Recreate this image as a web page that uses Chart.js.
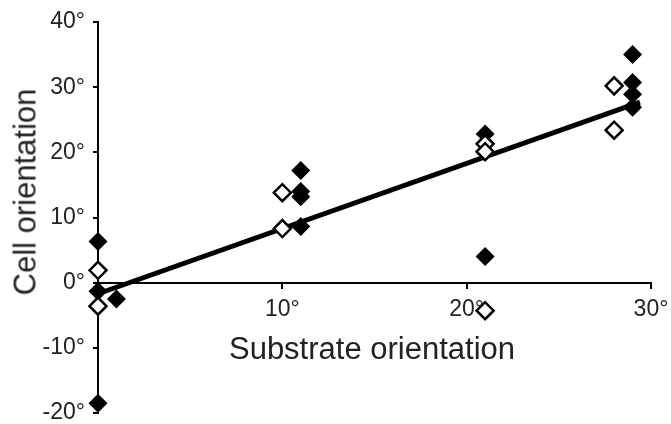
<!DOCTYPE html>
<html>
<head>
<meta charset="utf-8">
<script src="https://cdn.jsdelivr.net/npm/chart.js@4.4.1/dist/chart.umd.min.js"></script>
<style>
  body { margin: 0; background: #fff; }
  #wrap { position: relative; width: 671px; height: 424px; font-family: "Liberation Sans", Arial, sans-serif; color: #222; }
  #chart { position: absolute; left: 0; top: 0; }
  .title { position: absolute; font-size: 31px; white-space: nowrap; line-height: 31px; }
  #xTitle { left: 372px; top: 333px; transform: translateX(-50%); }
  #yTitle { left: 25px; top: 192px; transform: translate(-50%, -50%) rotate(-90deg); }
</style>
</head>
<body>
<div id="wrap">
  <canvas id="chart" width="671" height="424"></canvas>
  <div class="title" id="xTitle">Substrate orientation</div>
  <div class="title" id="yTitle">Cell orientation</div>
</div>
<script>
// filled diamonds
const filledX = [0, 0, 1, 0, 11, 11, 11, 11, 21, 21, 29, 29, 29, 29];
const filledY = [6.3, -1.3, -2.5, -18.5, 17.2, 14.0, 13.2, 8.6, 22.8, 4.0, 35.0, 30.7, 28.9, 26.9];

// open diamonds
const openX = [0, 0, 10, 10, 21, 21, 21, 28, 28];
const openY = [1.9, -3.6, 13.8, 8.3, 21.3, 20.1, -4.3, 30.2, 23.4];

// fitted line
const fitX = [0, 29.4];
const fitY = [-1.7, 27.7];

const xTicks = [0, 10, 20, 30];
const yTicks = [-20, -10, 0, 10, 20, 30, 40];

function toPoints(xs, ys) {
    return xs.map((x, i) => ({ x: x, y: ys[i] }));
}

function noPadding(scale) {
    scale.paddingTop = 0;
    scale.paddingBottom = 0;
    scale.paddingLeft = 0;
    scale.paddingRight = 0;
}

const tickFont = { family: '"Liberation Sans", Arial, sans-serif', size: 23 };

const ctx = document.getElementById('chart').getContext('2d');
new Chart(ctx, {
    type: 'scatter',
    data: {
        datasets: [
            {
                label: 'open',
                data: toPoints(openX, openY),
                pointStyle: 'rectRot',
                pointRadius: 8.5,
                pointBackgroundColor: '#fff',
                pointBorderColor: '#000',
                pointBorderWidth: 2.5,
                clip: false,
                order: 0
            },
            {
                label: 'filled',
                data: toPoints(filledX, filledY),
                pointStyle: 'rectRot',
                pointRadius: 9.5,
                pointBackgroundColor: '#000',
                pointBorderColor: '#000',
                pointBorderWidth: 0,
                clip: false,
                order: 1
            },
            {
                type: 'line',
                label: 'fit',
                data: toPoints(fitX, fitY),
                borderColor: '#000',
                borderWidth: 5,
                pointRadius: 0,
                fill: false,
                clip: false,
                order: 2
            }
        ]
    },
    options: {
        responsive: false,
        devicePixelRatio: 1,
        animation: false,
        layout: { padding: { left: 0, right: 20, top: 22, bottom: 9 } },
        plugins: {
            legend: { display: false },
            tooltip: { enabled: false }
        },
        scales: {
            x: {
                type: 'linear',
                min: 0,
                max: 30,
                position: { y: 0 },
                afterFit: noPadding,
                afterBuildTicks: (scale) => { scale.ticks = xTicks.map(v => ({ value: v })); },
                ticks: {
                    callback: (v) => v === 0 ? '' : v + '°',
                    font: tickFont,
                    color: '#222',
                    padding: 8,
                    maxRotation: 0
                },
                grid: { drawOnChartArea: false, drawTicks: true, tickLength: 5, color: '#000', lineWidth: 2 },
                border: { display: true, color: '#000', width: 2 }
            },
            y: {
                type: 'linear',
                min: -20,
                max: 40,
                position: 'left',
                afterFit: (scale) => { noPadding(scale); scale.width = 98; },
                afterBuildTicks: (scale) => { scale.ticks = yTicks.map(v => ({ value: v })); },
                ticks: {
                    callback: (v) => v + '°',
                    font: tickFont,
                    color: '#222',
                    padding: 8
                },
                grid: { drawOnChartArea: false, drawTicks: true, tickLength: 5, color: '#000', lineWidth: 2 },
                border: { display: true, color: '#000', width: 2 }
            }
        }
    }
});
</script>
</body>
</html>
